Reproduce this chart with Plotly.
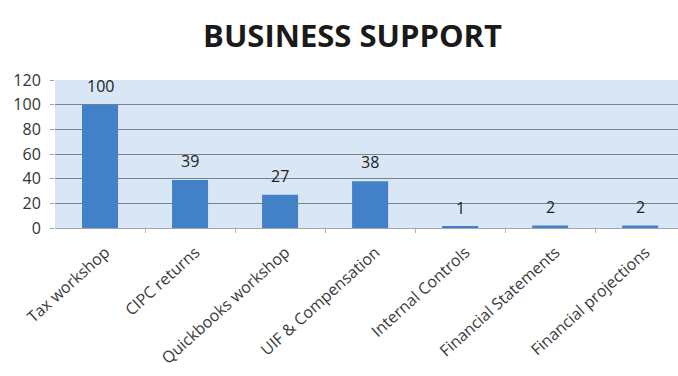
import plotly.graph_objects as go

categories = ["Tax workshop", "CIPC returns", "Quickbooks workshop", "UIF & Compensation",
              "Internal Controls", "Financial Statements", "Financial projections"]
values = [100, 39, 27, 38, 1, 2, 2]
y_ticks = [0, 20, 40, 60, 80, 100, 120]

positions = list(range(len(categories)))

fig = go.Figure()

fig.add_trace(
    go.Bar(
        x=positions,
        y=values,
        width=0.4,
        marker=dict(color="#4280c7", line=dict(width=0)),
        hoverinfo="skip",
    )
)

# value labels floating a little above each bar
for p, v in zip(positions, values):
    fig.add_annotation(
        x=p,
        y=v,
        xref="x",
        yref="y",
        text=str(v),
        showarrow=False,
        yanchor="bottom",
        yshift=6,
        font=dict(family="Open Sans", size=16, color="#222222"),
    )

# category names sit on an overlaid axis, nudged a little to the right
fig.add_trace(
    go.Scatter(
        x=positions,
        y=[0] * len(positions),
        xaxis="x2",
        mode="markers",
        marker=dict(opacity=0),
        hoverinfo="skip",
        showlegend=False,
    )
)

fig.update_layout(
    width=678,
    height=376,
    margin=dict(l=55, r=0, t=80, b=148),
    paper_bgcolor="white",
    plot_bgcolor="#d9e6f6",
    showlegend=False,
    title=dict(
        text="<b>BUSINESS SUPPORT</b>",
        x=0.52,
        xanchor="center",
        y=0.905,
        yanchor="middle",
        yref="container",
        font=dict(family="Open Sans", size=31, color="#1a1a1a"),
    ),
    xaxis=dict(
        range=[-0.5, 6.42],
        tickmode="array",
        tickvals=[p + 0.5 for p in positions],
        showticklabels=False,
        ticks="outside",
        ticklen=4,
        tickcolor="#b0b5bc",
        showgrid=False,
        showline=True,
        linecolor="#a0a6ae",
        linewidth=1,
        zeroline=False,
        automargin=False,
    ),
    xaxis2=dict(
        overlaying="x",
        side="bottom",
        anchor="y",
        range=[-0.56, 6.36],
        tickmode="array",
        tickvals=positions,
        ticktext=categories,
        tickangle=-42,
        ticks="",
        ticklabelstandoff=11,
        tickfont=dict(family="Open Sans", size=16, color="#3a3a3a"),
        showgrid=False,
        showline=False,
        zeroline=False,
        automargin=False,
    ),
    yaxis=dict(
        range=[0, 120],
        tickmode="array",
        tickvals=y_ticks,
        tickfont=dict(family="Open Sans", size=16, color="#333333"),
        ticklabelstandoff=6,
        showgrid=True,
        gridcolor="#7a828d",
        gridwidth=1,
        zeroline=False,
        ticks="outside",
        ticklen=4,
        tickcolor="#9aa0a8",
        showline=False,
        automargin=False,
    ),
)

fig.write_html("out.html")
